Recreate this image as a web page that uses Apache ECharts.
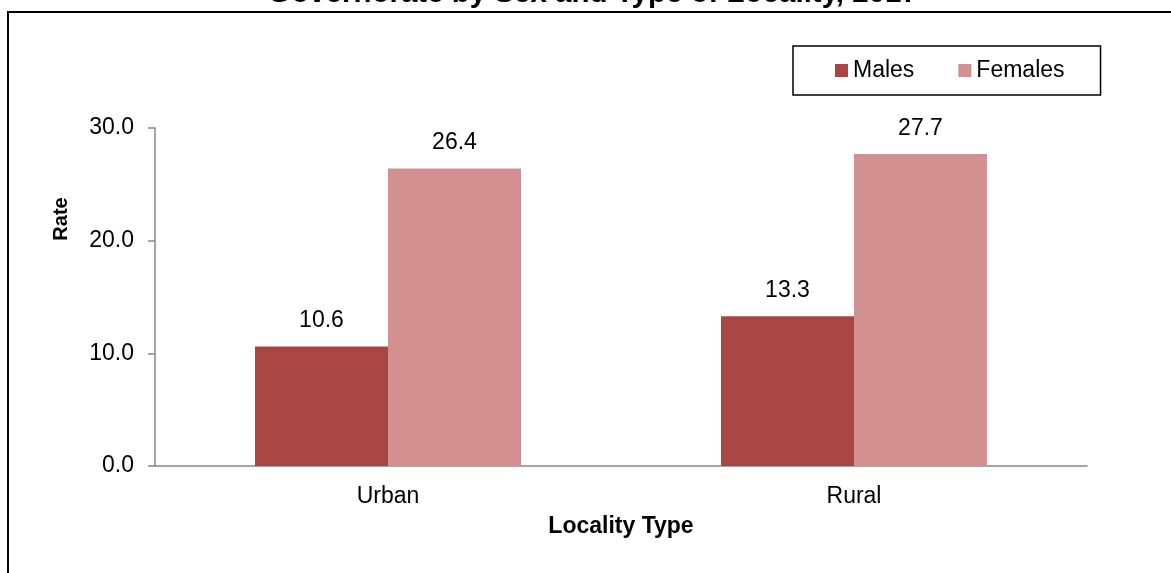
<!DOCTYPE html>
<html>
<head>
<meta charset="utf-8">
<script src="https://cdn.jsdelivr.net/npm/echarts@6/dist/echarts.min.js"></script>
<style>
html,body{margin:0;padding:0;background:#fff;}
#chart{width:1171px;height:573px;}
</style>
</head>
<body>
<div id="chart"></div>
<script>
const titleText = 'Governorate by Sex and Type of Locality, 2017';
const categories = ['Urban', 'Rural'];
const seriesNames = ['Males', 'Females'];
const males = [10.6, 13.3];
const females = [26.4, 27.7];
const yTicks = { min: 0, max: 30, interval: 10 };

const FONT = '"Liberation Sans", Arial, sans-serif';
const chart = echarts.init(document.getElementById('chart'));
chart.setOption({
  backgroundColor: '#ffffff',
  animation: false,
  textStyle: { fontFamily: FONT, color: '#000' },
  graphic: [
    { type: 'rect', shape: { x: 8, y: 12, width: 1200, height: 600 },
      style: { fill: 'none', stroke: '#000', lineWidth: 2 }, silent: true },
    { type: 'text', x: 593, y: -6,
      style: { text: titleText, fontFamily: FONT, fontSize: 29.5, fontWeight: 'bold',
               fill: '#000', align: 'center', verticalAlign: 'middle' } },
    { type: 'text', x: 61, y: 219, rotation: Math.PI / 2,
      style: { text: 'Rate', fontFamily: FONT, fontSize: 20, fontWeight: 'bold',
               fill: '#000', align: 'center', verticalAlign: 'middle' } }
  ],
  legend: {
    data: seriesNames,
    left: 793, top: 46,
    padding: [13, 36, 13, 42],
    itemWidth: 13, itemHeight: 13, itemGap: 44,
    icon: 'rect',
    borderColor: '#000', borderWidth: 1.5,
    textStyle: { fontFamily: FONT, fontSize: 23, color: '#000' }
  },
  grid: { left: 155, right: 84, top: 128, bottom: 107, containLabel: false },
  xAxis: {
    type: 'category',
    data: categories,
    name: 'Locality Type',
    nameLocation: 'middle',
    nameGap: 49,
    nameTextStyle: { fontFamily: FONT, fontSize: 23, fontWeight: 'bold', color: '#000' },
    axisLine: { lineStyle: { color: '#868686', width: 1.5 } },
    axisTick: { show: false },
    axisLabel: { fontFamily: FONT, fontSize: 23, color: '#000', margin: 19 }
  },
  yAxis: {
    type: 'value',
    min: yTicks.min, max: yTicks.max, interval: yTicks.interval,
    axisLine: { show: true, lineStyle: { color: '#868686', width: 1.5 } },
    axisTick: { show: true, length: 7, lineStyle: { color: '#868686', width: 1.5 } },
    splitLine: { show: false },
    axisLabel: { fontFamily: FONT, fontSize: 23, color: '#000', margin: 21,
                 formatter: v => v.toFixed(1) }
  },
  series: [
    { name: seriesNames[0], type: 'bar', data: males, barWidth: 133, barGap: '0%',
      itemStyle: { color: '#A94644' },
      label: { show: true, position: 'top', distance: 14, fontFamily: FONT, fontSize: 23,
               color: '#000', formatter: p => p.value.toFixed(1) } },
    { name: seriesNames[1], type: 'bar', data: females, barWidth: 133, barGap: '0%',
      itemStyle: { color: '#D29190' },
      label: { show: true, position: 'top', distance: 14, fontFamily: FONT, fontSize: 23,
               color: '#000', formatter: p => p.value.toFixed(1) } }
  ]
});
</script>
</body>
</html>
